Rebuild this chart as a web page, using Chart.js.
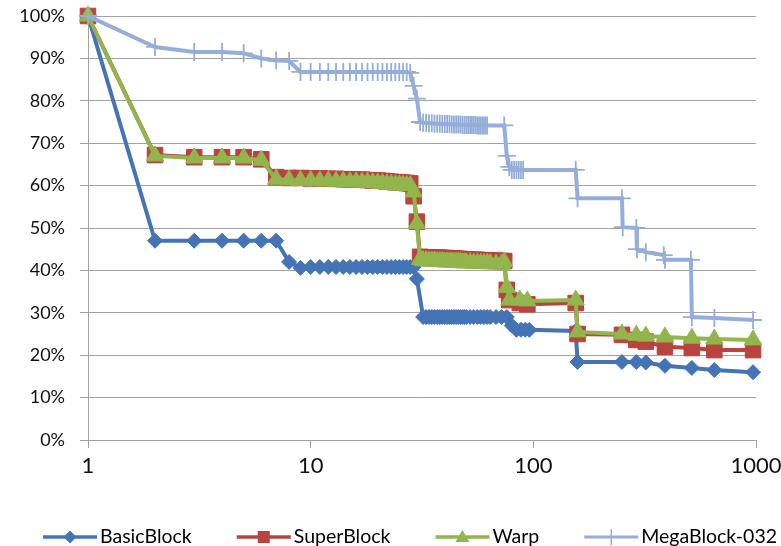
<!DOCTYPE html>
<html><head><meta charset="utf-8">
<script src="https://cdn.jsdelivr.net/npm/chart.js@4.4.0/dist/chart.umd.min.js"></script>
<style>html,body{margin:0;padding:0;background:#fff;}</style>
</head><body>
<canvas id="c" width="781" height="546"></canvas>
<script>
const seriesNames = ['BasicBlock', 'SuperBlock', 'Warp', 'MegaBlock-032'];
const xTickValues = [1, 10, 100, 1000];
const yTickValues = [0, 10, 20, 30, 40, 50, 60, 70, 80, 90, 100];

const basicX = [1,2,3,4,5,6,7,8,9,10,11,12,13,14,15,16,17,18,19,20,21,22,23,24,25,26,27,28,29,30,
  32,33,34,35,36,37,38,39,40,41,42,43,44,45,46,47,48,49,50,52,54,56,58,60,62,64,68,72,76,
  80,84,88,92,96,155,158,250,290,320,390,515,650,970];
const basicY = [100,47,47,47,47,47,47,42,40.6,40.8,40.8,40.8,40.8,40.8,40.8,40.8,40.8,40.8,40.8,40.8,40.8,40.8,40.8,40.8,40.8,40.8,40.8,40.8,40.8,38,
  29,29,29,29,29,29,29,29,29,29,29,29,29,29,29,29,29,29,29,29,29,29,29,29,29,29,29,29,29,
  27,26,26,26,26,25.7,18.4,18.4,18.4,18.3,17.5,17,16.5,16];

const superX = [1,2,3,4,5,6,7,8,9,10,11,12,13,14,15,16,17,18,19,20,21,22,23,24,25,26,27,28,29,30,31,
  32,33,34,35,36,37,38,39,40,41,42,43,44,45,46,47,48,49,50,52,54,56,58,60,62,64,68,72,74,
  76,78,87,94,155,158,250,290,320,390,515,650,970];
const superY = [100,67.2,66.7,66.7,66.7,66.2,62,61.8,61.8,61.7,61.7,61.6,61.6,61.5,61.5,61.4,61.4,61.3,61.2,61.2,61.1,61,60.9,60.8,60.8,60.7,60.6,60.5,57.5,51.5,43.2,
  43.1,43.1,43,43,43,43,43,42.9,42.9,42.9,42.8,42.8,42.8,42.7,42.7,42.7,42.6,42.6,42.6,42.5,42.5,42.5,42.4,42.4,42.4,42.3,42.3,42.2,42.2,
  35.4,33,32.3,32,32.3,25,24.8,23.6,23.2,22,21.7,21.2,21.2];

const warpX = [1,2,3,4,5,6,7,8,9,10,11,12,13,14,15,16,17,18,19,20,21,22,23,24,25,26,27,28,29,30,31,
  32,33,34,35,36,37,38,39,40,41,42,43,44,45,46,47,48,49,50,52,54,56,58,60,62,64,68,72,74,
  76,78,87,94,155,158,250,290,320,390,515,650,970];
const warpY = [100,67,66.5,66.5,66.5,66,61.5,61.3,61.2,61.2,61.1,61.1,61,61,60.9,60.9,60.8,60.8,60.7,60.6,60.5,60.4,60.3,60.2,60.2,60.1,60,60,58.5,51,42.6,
  42.3,42.3,42.2,42.2,42.2,42.1,42.1,42.1,42,42,42,42,41.9,41.9,41.9,41.9,41.8,41.8,41.8,41.8,41.7,41.7,41.7,41.6,41.6,41.6,41.5,41.5,42,
  36,33,33,32.8,33,25.5,25,24.7,24.5,24.3,24,23.8,23.6];

const megaX = [1,2,3,4,5,6,7,8,9,10,11,12,13,14,15,16,17,18,19,20,21,22,23,24,25,26,27,28,29,30,31,
  32,33,34,35,36,37,38,39,40,41,42,43,44,45,46,47,48,49,50,51,52,53,54,55,56,57,58,59,60,61,62,
  74,76,78,80,82,84,86,88,90,155,158,250,252,290,292,320,385,390,510,515,650,970];
const megaY = [100,92.7,91.5,91.5,91.2,90,89.5,89.4,86.8,86.8,86.8,86.8,86.8,86.8,86.8,86.8,86.8,86.8,86.8,86.8,86.8,86.8,86.8,86.8,86.8,86.8,86.8,86.6,83.5,80.5,75,
  74.8,74.8,74.7,74.7,74.6,74.6,74.6,74.5,74.5,74.5,74.5,74.4,74.4,74.4,74.4,74.4,74.3,74.3,74.3,74.3,74.3,74.3,74.3,74.3,74.2,74.2,74.2,74.2,74.2,74.2,74.2,
  74.2,67,64.4,63.7,63.7,63.7,63.7,63.7,63.7,63.7,57,57,50.2,50,45,44.3,43.6,42.5,42.5,29,28.8,28.3];

const colors = ['#4474B5', '#B9433F', '#92B54C', '#95AED9'];
const markerKinds = ['diamond', 'square', 'triangle', 'cross'];
const gridColor = '#a3a3a3';
const fontFamily = 'Lato, "Open Sans", sans-serif';
const legendFontSize = 19.5;
const legendCenterX = 410;
const legendY = 537;

function pts(xs, ys) { return xs.map((x, i) => ({ x: x, y: ys[i] })); }

function drawLegendIcon(g, x, y, i) {
  const color = colors[i], kind = markerKinds[i], w = 54;
  g.save();
  g.strokeStyle = color; g.fillStyle = color;
  g.lineWidth = kind === 'cross' ? 3 : 3.5;
  g.beginPath(); g.moveTo(x, y); g.lineTo(x + w, y); g.stroke();
  const cx = x + w / 2, cy = y;
  g.beginPath();
  if (kind === 'diamond') {
    g.moveTo(cx, cy - 6.5); g.lineTo(cx + 6.5, cy); g.lineTo(cx, cy + 6.5); g.lineTo(cx - 6.5, cy); g.closePath(); g.fill();
  } else if (kind === 'square') {
    g.fillRect(cx - 6, cy - 6, 12, 12);
  } else if (kind === 'triangle') {
    g.moveTo(cx, cy - 7); g.lineTo(cx + 7, cy + 5); g.lineTo(cx - 7, cy + 5); g.closePath(); g.fill();
  } else {
    g.lineWidth = 1.5;
    g.moveTo(cx, cy - 8); g.lineTo(cx, cy + 8); g.stroke();
  }
  g.restore();
}

const lineLegend = {
  id: 'lineLegend',
  afterDraw(chart) {
    const ctx = chart.ctx;
    ctx.save();
    ctx.font = legendFontSize + 'px ' + fontFamily;
    ctx.textBaseline = 'middle';
    ctx.textAlign = 'left';
    ctx.fillStyle = '#000';
    const iconW = 54, gapIT = 3, gapItems = 45;
    const widths = seriesNames.map(n => ctx.measureText(n).width);
    const total = widths.reduce((a, b) => a + b, 0) + seriesNames.length * (iconW + gapIT) + (seriesNames.length - 1) * gapItems;
    let x = legendCenterX - total / 2;
    seriesNames.forEach((n, i) => {
      drawLegendIcon(ctx, x, legendY, i);
      x += iconW + gapIT;
      ctx.fillText(n, x, legendY);
      x += widths[i] + gapItems;
    });
    ctx.restore();
  }
};

function ds(i, xs, ys, style, radius, order, pbw) {
  return {
    label: seriesNames[i],
    data: pts(xs, ys),
    borderColor: colors[i],
    backgroundColor: colors[i],
    borderWidth: 4,
    pointStyle: style,
    pointRadius: radius,
    pointBackgroundColor: colors[i],
    pointBorderColor: colors[i],
    pointBorderWidth: pbw,
    tension: 0,
    fill: false,
    clip: false,
    order: order
  };
}

new Chart(document.getElementById('c'), {
  type: 'line',
  data: {
    datasets: [
      ds(0, basicX, basicY, 'rectRot', 7.5, 4, 1),
      ds(1, superX, superY, 'rect', 11, 3, 1),
      ds(2, warpX, warpY, 'triangle', 10, 2, 1),
      ds(3, megaX, megaY, 'cross', 9, 1, 1.8)
    ]
  },
  plugins: [lineLegend],
  options: {
    responsive: false,
    animation: false,
    events: [],
    layout: { padding: { top: 16, right: 25, bottom: 0, left: 0 } },
    plugins: {
      tooltip: { enabled: false },
      legend: { display: false }
    },
    scales: {
      x: {
        type: 'logarithmic',
        min: 1, max: 1000,
        afterBuildTicks: s => { s.ticks = xTickValues.map(v => ({ value: v })); },
        afterFit: s => { s.height = 106; s.paddingLeft = 0; s.paddingRight = 0; },
        ticks: { callback: v => String(v), autoSkip: false, maxRotation: 0, padding: 5, color: '#111', font: { family: fontFamily, size: 22 } },
        grid: { drawOnChartArea: false, drawTicks: true, tickLength: 8, color: gridColor },
        border: { color: gridColor }
      },
      y: {
        min: 0, max: 100,
        afterBuildTicks: s => { s.ticks = yTickValues.map(v => ({ value: v })); },
        afterFit: s => { s.width = 88; s.paddingTop = 0; s.paddingBottom = 0; },
        ticks: { callback: v => v + '%', padding: 15, color: '#111', font: { family: fontFamily, size: 18 } },
        grid: { color: gridColor, tickLength: 8 },
        border: { color: gridColor }
      }
    }
  }
});
</script>
</body></html>
